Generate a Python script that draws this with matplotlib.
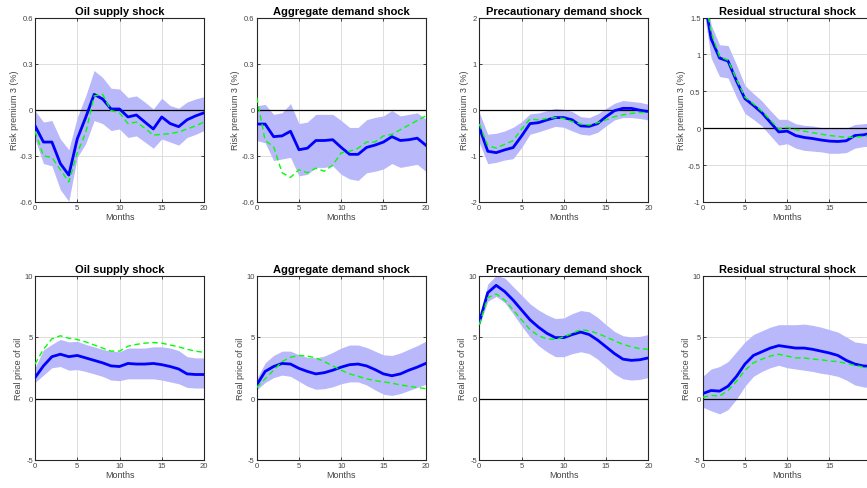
import numpy as np
import matplotlib
matplotlib.use("Agg")
import matplotlib.pyplot as plt

plt.rcParams['font.family'] = ['Liberation Sans', 'DejaVu Sans']

months = np.arange(21)

titles = ["Oil supply shock", "Aggregate demand shock",
          "Precautionary demand shock", "Residual structural shock"]
ylabels = ["Risk premium 3 (%)", "Real price of oil"]

# ---- row 1: risk premium 3 ----
rp_oil_mid = [-0.104, -0.21, -0.21, -0.35, -0.425, -0.19, -0.05, 0.10, 0.07, 0.005, 0.005,
              -0.047, -0.034, -0.08, -0.125, -0.047, -0.09, -0.11, -0.065, -0.04, -0.02]
rp_oil_alt = [-0.14, -0.30, -0.31, -0.39, -0.47, -0.28, -0.15, 0.09, 0.10, -0.005, -0.02,
              -0.09, -0.08, -0.12, -0.165, -0.16, -0.155, -0.145, -0.125, -0.105, -0.08]
rp_oil_hi = [-0.005, -0.08, -0.07, -0.19, -0.26, -0.05, 0.09, 0.255, 0.21, 0.14, 0.135,
             0.08, 0.09, 0.05, 0.005, 0.075, 0.027, 0.01, 0.05, 0.07, 0.085]
rp_oil_lo = [-0.19, -0.35, -0.365, -0.52, -0.595, -0.31, -0.22, -0.07, -0.09, -0.135, -0.125,
             -0.18, -0.17, -0.21, -0.25, -0.19, -0.21, -0.23, -0.18, -0.16, -0.135]

rp_agg_mid = [-0.093, -0.093, -0.175, -0.17, -0.14, -0.26, -0.25, -0.20, -0.20, -0.195, -0.245,
              -0.29, -0.29, -0.245, -0.23, -0.21, -0.175, -0.20, -0.195, -0.185, -0.23]
rp_agg_alt = [0.08, -0.20, -0.24, -0.41, -0.44, -0.39, -0.41, -0.38, -0.40, -0.36, -0.28,
              -0.27, -0.25, -0.21, -0.21, -0.17, -0.16, -0.13, -0.10, -0.07, -0.04]
rp_agg_hi = [0.025, 0.035, -0.03, -0.02, 0.04, -0.09, -0.08, -0.03, -0.03, -0.03, -0.07,
             -0.115, -0.115, -0.065, -0.05, -0.04, -0.005, -0.04, -0.03, -0.02, -0.06]
rp_agg_lo = [-0.20, -0.215, -0.33, -0.32, -0.31, -0.43, -0.42, -0.375, -0.375, -0.365, -0.42,
             -0.45, -0.46, -0.41, -0.40, -0.385, -0.35, -0.375, -0.365, -0.355, -0.40]

rp_pre_mid = [-0.38, -0.9, -0.93, -0.87, -0.82, -0.57, -0.30, -0.28, -0.22, -0.17, -0.17,
              -0.22, -0.35, -0.36, -0.30, -0.15, -0.02, 0.03, 0.03, -0.01, -0.04]
rp_pre_alt = [-0.31, -0.78, -0.83, -0.75, -0.67, -0.42, -0.20, -0.22, -0.19, -0.17, -0.19,
              -0.26, -0.31, -0.33, -0.28, -0.22, -0.15, -0.11, -0.08, -0.06, -0.06]
rp_pre_hi = [-0.06, -0.53, -0.51, -0.46, -0.38, -0.26, -0.09, -0.07, -0.02, 0.03, 0.01,
             -0.04, -0.15, -0.17, -0.09, 0.03, 0.14, 0.20, 0.18, 0.16, 0.12]
rp_pre_lo = [-0.71, -1.17, -1.14, -1.09, -1.06, -0.82, -0.53, -0.48, -0.42, -0.36, -0.38,
             -0.46, -0.53, -0.55, -0.49, -0.35, -0.22, -0.17, -0.17, -0.19, -0.22]

rp_res_mid = [1.9, 1.21, 0.95, 0.91, 0.64, 0.40, 0.31, 0.21, 0.08, -0.05, -0.04,
              -0.10, -0.125, -0.14, -0.16, -0.175, -0.18, -0.17, -0.10, -0.09, -0.07]
rp_res_alt = [1.95, 1.3, 0.97, 0.92, 0.66, 0.42, 0.33, 0.23, 0.11, -0.01, 0.01,
              -0.02, -0.04, -0.06, -0.08, -0.10, -0.11, -0.125, -0.12, -0.11, -0.10]
rp_res_hi = [2.2, 1.4, 1.13, 1.12, 0.86, 0.58, 0.47, 0.37, 0.24, 0.12, 0.12,
             0.06, 0.04, 0.03, 0.01, 0.0, 0.0, 0.0, 0.05, 0.06, 0.07]
rp_res_lo = [1.7, 0.95, 0.70, 0.68, 0.42, 0.20, 0.12, 0.03, -0.10, -0.23, -0.21,
             -0.27, -0.30, -0.31, -0.32, -0.34, -0.34, -0.33, -0.27, -0.25, -0.24]

# ---- row 2: real price of oil ----
po_oil_mid = [1.7, 2.65, 3.4, 3.6, 3.4, 3.5, 3.3, 3.1, 2.9, 2.65, 2.6,
              2.85, 2.8, 2.8, 2.85, 2.75, 2.6, 2.4, 2.0, 1.95, 1.95]
po_oil_alt = [2.8, 4.0, 4.85, 5.1, 4.9, 4.8, 4.6, 4.35, 4.1, 3.85, 3.85,
              4.25, 4.4, 4.5, 4.55, 4.5, 4.35, 4.2, 4.0, 3.85, 3.75]
po_oil_hi = [2.5, 3.95, 4.4, 4.8, 4.6, 4.65, 4.4, 4.2, 4.0, 3.85, 3.8,
             4.1, 4.1, 4.1, 4.2, 4.2, 4.1, 3.9, 3.4, 3.3, 3.3]
po_oil_lo = [1.3, 1.9, 2.5, 2.6, 2.3, 2.35, 2.2, 2.0, 1.8, 1.5, 1.45,
             1.6, 1.6, 1.6, 1.6, 1.5, 1.35, 1.2, 0.9, 0.85, 0.85]

po_agg_mid = [1.1, 2.2, 2.6, 2.85, 2.8, 2.45, 2.2, 2.0, 2.1, 2.3, 2.55,
              2.75, 2.8, 2.65, 2.35, 2.0, 1.85, 2.0, 2.3, 2.55, 2.85]
po_agg_alt = [0.9, 1.6, 2.3, 3.0, 3.35, 3.5, 3.45, 3.3, 3.0, 2.65, 2.3,
              2.0, 1.8, 1.6, 1.45, 1.35, 1.25, 1.1, 1.0, 0.9, 0.8]
po_agg_hi = [1.6, 2.9, 3.5, 3.85, 3.85, 3.55, 3.35, 3.3, 3.45, 3.75, 4.1,
             4.35, 4.35, 4.15, 3.85, 3.55, 3.5, 3.7, 4.0, 4.3, 4.65]
po_agg_lo = [0.7, 1.3, 1.7, 1.9, 1.8, 1.4, 1.0, 0.75, 0.8, 0.95, 1.2,
             1.35, 1.35, 1.1, 0.7, 0.35, 0.25, 0.4, 0.65, 0.9, 1.15]

po_pre_mid = [6.2, 8.6, 9.2, 8.7, 8.0, 7.2, 6.4, 5.8, 5.3, 4.95, 4.95,
              5.2, 5.4, 5.2, 4.75, 4.2, 3.65, 3.2, 3.1, 3.15, 3.3]
po_pre_alt = [6.0, 8.2, 8.5, 8.0, 7.2, 6.4, 5.6, 5.1, 4.85, 4.8, 5.0,
              5.3, 5.6, 5.5, 5.3, 5.0, 4.7, 4.4, 4.2, 4.05, 4.0]
po_pre_hi = [6.5, 9.3, 10.0, 9.8, 9.1, 8.4, 7.7, 7.2, 6.8, 6.5, 6.55,
             6.9, 7.15, 7.05, 6.6, 6.0, 5.45, 5.1, 5.0, 5.05, 5.2]
po_pre_lo = [5.9, 7.9, 8.3, 7.8, 6.9, 5.9, 5.0, 4.3, 3.8, 3.4, 3.4,
             3.65, 3.8, 3.65, 3.2, 2.6, 2.0, 1.6, 1.5, 1.55, 1.7]

po_res_mid = [0.4, 0.65, 0.6, 1.0, 1.8, 2.8, 3.5, 3.8, 4.1, 4.3, 4.2,
              4.1, 4.1, 4.0, 3.85, 3.7, 3.5, 3.1, 2.8, 2.65, 2.6]
po_res_alt = [0.1, 0.25, 0.2, 0.65, 1.4, 2.3, 2.9, 3.2, 3.45, 3.6, 3.45,
              3.3, 3.3, 3.2, 3.15, 3.05, 3.0, 2.85, 2.7, 2.55, 2.45]
po_res_hi = [1.8, 2.4, 2.6, 3.0, 3.8, 4.6, 5.2, 5.5, 5.8, 6.0, 6.0,
             6.0, 6.05, 5.95, 5.8, 5.6, 5.4, 5.0, 4.6, 4.5, 4.4]
po_res_lo = [-0.7, -1.0, -1.25, -0.9, -0.05, 1.0, 1.8, 2.2, 2.5, 2.7, 2.5,
             2.4, 2.3, 2.2, 2.05, 1.95, 1.8, 1.5, 1.1, 0.95, 0.85]

rows = [
    [(rp_oil_mid, rp_oil_alt, rp_oil_lo, rp_oil_hi),
     (rp_agg_mid, rp_agg_alt, rp_agg_lo, rp_agg_hi),
     (rp_pre_mid, rp_pre_alt, rp_pre_lo, rp_pre_hi),
     (rp_res_mid, rp_res_alt, rp_res_lo, rp_res_hi)],
    [(po_oil_mid, po_oil_alt, po_oil_lo, po_oil_hi),
     (po_agg_mid, po_agg_alt, po_agg_lo, po_agg_hi),
     (po_pre_mid, po_pre_alt, po_pre_lo, po_pre_hi),
     (po_res_mid, po_res_alt, po_res_lo, po_res_hi)],
]

ylims = [[(-0.6, 0.6), (-0.6, 0.6), (-2, 2), (-1, 1.5)],
         [(-5, 10)] * 4]
yticks = [[[-0.6, -0.3, 0, 0.3, 0.6], [-0.6, -0.3, 0, 0.3, 0.6],
           [-2, -1, 0, 1, 2], [-1, -0.5, 0, 0.5, 1, 1.5]],
          [[-5, 0, 5, 10]] * 4]

W, H = 867, 489
fig = plt.figure(figsize=(W / 100, H / 100), dpi=100)

lefts = [35, 256.7, 479.3, 702.7]
bottoms = [489 - 203, 489 - 461]
aw, ah = 169, 184.5

for r in range(2):
    for c in range(4):
        ax = fig.add_axes([lefts[c] / W, bottoms[r] / H, aw / W, ah / H])
        mid, alt, lo, hi = rows[r][c]
        ax.fill_between(months, lo, hi, color='#b8b8fa', lw=0, zorder=1)
        ax.plot(months, mid, color='#0000ff', lw=2.0, zorder=3)
        ax.plot(months, alt, color='#00ff00', lw=1.0, ls=(0, (4, 2.5)), zorder=4)
        ax.axhline(0, color='black', lw=0.9, zorder=2)
        ax.set_xlim(0, 20)
        ax.set_ylim(*ylims[r][c])
        ax.set_xticks([0, 5, 10, 15, 20])
        ax.set_yticks(yticks[r][c])
        ax.set_yticklabels([f"{v:g}" for v in yticks[r][c]])
        ax.grid(True, color='#dddddd', lw=0.7, zorder=0)
        ax.set_axisbelow(True)
        ax.tick_params(direction='in', length=2.5, width=0.6, labelsize=5.5,
                       colors='#262626', labelcolor='#444444', pad=1.5,
                       top=True, right=True)
        for s in ax.spines.values():
            s.set_color('#262626')
            s.set_linewidth(0.8)
        ax.set_title(titles[c], fontsize=8, fontweight='bold', pad=2.5)
        ax.set_xlabel('Months', fontsize=6.5, color='#444444', labelpad=1)
        ax.set_ylabel(ylabels[r], fontsize=6.5, color='#444444', labelpad=1)

fig.savefig('out.png', dpi=100)
